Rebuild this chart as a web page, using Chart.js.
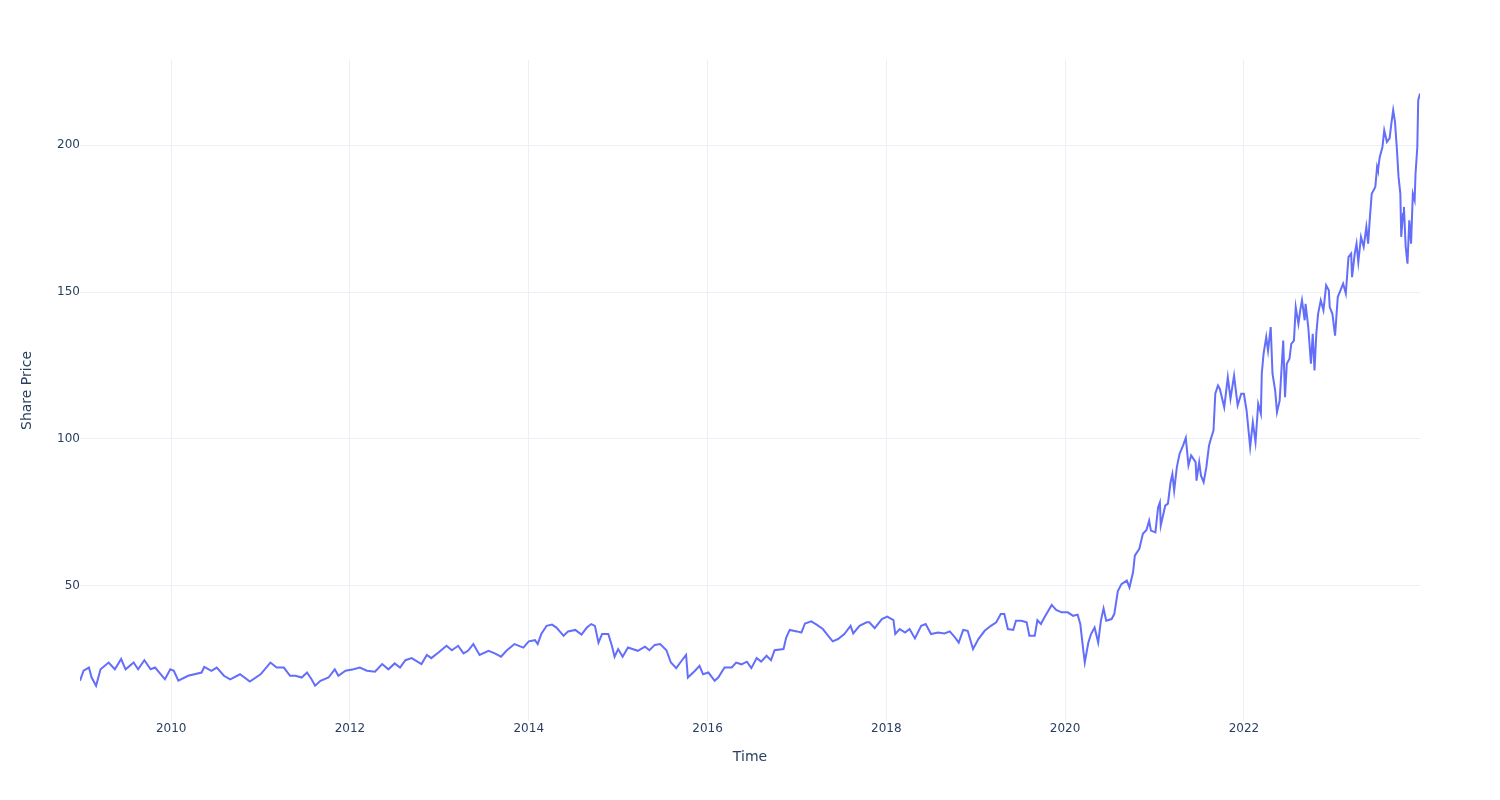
<!DOCTYPE html>
<html>
<head>
<meta charset="utf-8">
<title>Share Price</title>
<script src="https://cdn.jsdelivr.net/npm/chart.js@4.4.1/dist/chart.umd.min.js"></script>
<style>
    html, body { margin: 0; padding: 0; background: #ffffff; }
    #wrap { width: 1500px; height: 800px; }
</style>
</head>
<body>
<div id="wrap"><canvas id="priceChart" width="1500" height="800"></canvas></div>
<script>
// Time as decimal years
const dates = [
    2008.98, 2009.02, 2009.08, 2009.11, 2009.16, 2009.21, 2009.30, 2009.37, 2009.44, 2009.49,
    2009.58, 2009.63, 2009.70, 2009.77, 2009.82, 2009.93, 2009.99, 2010.03, 2010.08, 2010.19,
    2010.34, 2010.37, 2010.45, 2010.51, 2010.59, 2010.66, 2010.77, 2010.88, 2011.00, 2011.11,
    2011.18, 2011.26, 2011.33, 2011.39, 2011.46, 2011.52, 2011.57, 2011.61, 2011.67, 2011.76,
    2011.83, 2011.87, 2011.95, 2012.04, 2012.11, 2012.19, 2012.28, 2012.36, 2012.43, 2012.50,
    2012.56, 2012.62, 2012.69, 2012.80, 2012.86, 2012.91, 2012.99, 2013.08, 2013.14, 2013.21,
    2013.27, 2013.32, 2013.38, 2013.45, 2013.55, 2013.62, 2013.69, 2013.75, 2013.84, 2013.94,
    2014.00, 2014.07, 2014.10, 2014.14, 2014.20, 2014.26, 2014.31, 2014.39, 2014.44, 2014.52,
    2014.59, 2014.65, 2014.70, 2014.74, 2014.78, 2014.82, 2014.89, 2014.93, 2014.96, 2015.00,
    2015.05, 2015.11, 2015.22, 2015.30, 2015.35, 2015.41, 2015.47, 2015.54, 2015.59, 2015.65,
    2015.71, 2015.76, 2015.78, 2015.86, 2015.91, 2015.95, 2016.01, 2016.08, 2016.12, 2016.19,
    2016.27, 2016.32, 2016.38, 2016.44, 2016.49, 2016.55, 2016.60, 2016.66, 2016.71, 2016.75,
    2016.85, 2016.88, 2016.92, 2017.00, 2017.05, 2017.09, 2017.16, 2017.22, 2017.29, 2017.35,
    2017.40, 2017.46, 2017.53, 2017.60, 2017.63, 2017.70, 2017.78, 2017.81, 2017.87, 2017.95,
    2018.01, 2018.08, 2018.10, 2018.15, 2018.21, 2018.26, 2018.32, 2018.39, 2018.44, 2018.50,
    2018.58, 2018.65, 2018.71, 2018.77, 2018.81, 2018.86, 2018.91, 2018.97, 2019.03, 2019.10,
    2019.17, 2019.23, 2019.28, 2019.32, 2019.36, 2019.42, 2019.45, 2019.51, 2019.57, 2019.60,
    2019.66, 2019.69, 2019.73, 2019.76, 2019.85, 2019.90, 2019.96, 2020.03, 2020.09, 2020.14,
    2020.17, 2020.20, 2020.22, 2020.26, 2020.29, 2020.33, 2020.37, 2020.40, 2020.43, 2020.46,
    2020.52, 2020.55, 2020.59, 2020.63, 2020.69, 2020.72, 2020.76, 2020.78, 2020.83, 2020.87,
    2020.91, 2020.94, 2020.96, 2021.01, 2021.04, 2021.06, 2021.07, 2021.12, 2021.15, 2021.18,
    2021.20, 2021.22, 2021.25, 2021.28, 2021.32, 2021.35, 2021.38, 2021.41, 2021.46, 2021.47,
    2021.50, 2021.52, 2021.55, 2021.58, 2021.61, 2021.63, 2021.66, 2021.68, 2021.71, 2021.73,
    2021.78, 2021.82, 2021.85, 2021.89, 2021.93, 2021.97, 2022.00, 2022.03, 2022.07, 2022.10,
    2022.13, 2022.16, 2022.19, 2022.20, 2022.22, 2022.25, 2022.27, 2022.30, 2022.32, 2022.35,
    2022.37, 2022.40, 2022.42, 2022.44, 2022.46, 2022.48, 2022.51, 2022.53, 2022.56, 2022.58,
    2022.61, 2022.63, 2022.65, 2022.68, 2022.69, 2022.72, 2022.75, 2022.77, 2022.79, 2022.81,
    2022.83, 2022.86, 2022.89, 2022.92, 2022.95, 2022.96, 2022.99, 2023.02, 2023.05, 2023.08,
    2023.11, 2023.14, 2023.17, 2023.20, 2023.21, 2023.24, 2023.26, 2023.28, 2023.31, 2023.34,
    2023.37, 2023.39, 2023.41, 2023.43, 2023.47, 2023.49, 2023.50, 2023.52, 2023.55, 2023.57,
    2023.60, 2023.63, 2023.65, 2023.67, 2023.69, 2023.71, 2023.73, 2023.75, 2023.76, 2023.78,
    2023.79, 2023.81, 2023.83, 2023.85, 2023.87, 2023.89, 2023.91, 2023.92, 2023.94, 2023.95,
    2023.97
];

// Share price at each date
const prices = [
    17.7, 21.1, 22.2, 18.8, 16.0, 21.6, 23.9, 21.6, 25.1, 21.6,
    23.9, 21.6, 24.7, 21.6, 22.2, 18.2, 21.6, 21.1, 17.7, 19.4,
    20.5, 22.4, 21.1, 22.2, 19.4, 18.2, 19.9, 17.4, 19.9, 23.9,
    22.2, 22.2, 19.4, 19.4, 18.8, 20.5, 18.2, 16.0, 17.7, 18.8,
    21.6, 19.4, 21.1, 21.6, 22.2, 21.1, 20.8, 23.4, 21.6, 23.6,
    22.2, 24.7, 25.4, 23.4, 26.5, 25.4, 27.3, 29.6, 28.1, 29.6,
    27.0, 27.9, 30.2, 26.5, 27.9, 27.0, 25.9, 27.9, 30.2, 29.0,
    31.1, 31.5, 30.2, 33.6, 36.4, 36.8, 35.8, 33.0, 34.5, 35.0,
    33.4, 35.8, 37.0, 36.4, 30.7, 33.6, 33.6, 29.6, 25.9, 28.5,
    25.9, 29.0, 27.9, 29.3, 28.1, 29.9, 30.2, 28.1, 23.9, 22.0,
    24.5, 26.5, 18.8, 21.1, 22.8, 19.9, 20.5, 17.7, 18.8, 22.2,
    22.2, 23.9, 23.3, 24.2, 22.0, 25.4, 24.2, 26.2, 24.7, 28.1,
    28.5, 32.4, 35.0, 34.5, 34.1, 37.2, 37.9, 36.8, 35.3, 33.0,
    31.1, 31.9, 33.6, 36.4, 33.8, 36.4, 37.6, 37.6, 35.6, 38.7,
    39.5, 38.3, 33.6, 35.3, 34.1, 35.3, 32.1, 36.4, 37.0, 33.6,
    34.1, 33.8, 34.5, 32.4, 30.7, 35.0, 34.7, 28.5, 31.9, 34.7,
    36.4, 37.6, 40.4, 40.4, 35.3, 35.0, 38.1, 38.1, 37.6, 33.0,
    33.0, 38.3, 37.0, 38.8, 43.5, 41.8, 41.0, 41.0, 39.8, 40.2,
    37.0, 29.0, 23.9, 30.7, 33.6, 35.8, 30.7, 38.1, 42.3, 38.1,
    38.7, 40.4, 48.2, 50.6, 51.8, 49.5, 54.6, 60.3, 62.6, 67.7,
    69.0, 72.2, 68.8, 68.2, 76.7, 78.4, 70.5, 77.3, 78.0, 85.3,
    88.1, 82.4, 90.4, 94.9, 97.8, 100.4, 91.0, 94.4, 92.1, 85.8,
    92.1, 87.5, 85.3, 90.4, 97.8, 100.0, 102.9, 115.4, 118.2, 117.1,
    110.8, 121.0, 113.7, 121.6, 111.4, 115.4, 115.4, 109.7, 97.2, 105.7,
    98.9, 112.0, 108.6, 122.2, 129.0, 134.7, 130.1, 138.1, 122.2, 116.5,
    109.1, 113.1, 123.3, 133.5, 114.2, 125.6, 127.3, 132.4, 133.5, 144.9,
    139.2, 143.8, 147.2, 140.4, 146.0, 138.1, 125.6, 135.8, 123.3, 135.8,
    142.6, 147.2, 143.8, 152.3, 150.6, 144.9, 142.6, 135.2, 148.3, 150.6,
    152.9, 149.5, 161.9, 163.1, 155.1, 163.1, 166.5, 160.2, 168.8, 165.4,
    172.2, 166.5, 175.6, 183.5, 185.8, 192.6, 191.5, 196.0, 199.4, 205.1,
    201.1, 202.3, 207.4, 211.9, 208.0, 199.4, 189.2, 183.5, 168.8, 176.7,
    179.0, 165.4, 159.7, 174.4, 166.5, 183.5, 181.3, 190.3, 199.4, 215.3,
    217.6
];

// Axis tick labels
const yearTicks = [2010, 2012, 2014, 2016, 2018, 2020, 2022];
const priceTicks = [50, 100, 150, 200];

const points = dates.map((d, i) => ({ x: d, y: prices[i] }));

const fontFamily = '"DejaVu Sans", Verdana, Arial, sans-serif';
const textColor = '#2a3f5f';
const gridColor = '#ebf0f8';

const ctx = document.getElementById('priceChart').getContext('2d');
new Chart(ctx, {
    type: 'line',
    data: {
        datasets: [{
            label: 'Share Price',
            data: points,
            borderColor: '#636efa',
            borderWidth: 2,
            pointRadius: 0,
            tension: 0,
            fill: false
        }]
    },
    options: {
        responsive: false,
        animation: false,
        layout: {
            padding: { top: 60, right: 80, left: 0, bottom: 0 }
        },
        plugins: {
            legend: { display: false },
            tooltip: { enabled: false }
        },
        scales: {
            x: {
                type: 'linear',
                min: dates[0],
                max: dates[dates.length - 1],
                afterBuildTicks: (scale) => {
                    scale.ticks = yearTicks.map(v => ({ value: v }));
                },
                afterFit: (scale) => { scale.height = 79; },
                grid: { color: gridColor, drawTicks: false, lineWidth: 1 },
                border: { display: false },
                ticks: {
                    padding: 1,
                    color: textColor,
                    font: { family: fontFamily, size: 12 },
                    maxRotation: 0,
                    callback: (v) => String(v)
                },
                title: {
                    display: true,
                    text: 'Time',
                    color: textColor,
                    font: { family: fontFamily, size: 14 },
                    padding: { top: 0, bottom: 34 }
                }
            },
            y: {
                type: 'linear',
                min: 4,
                max: 229,
                afterBuildTicks: (scale) => {
                    scale.ticks = priceTicks.map(v => ({ value: v }));
                },
                afterFit: (scale) => { scale.width = 80; },
                grid: { color: gridColor, drawTicks: false, lineWidth: 1 },
                border: { display: false },
                ticks: {
                    padding: 0,
                    color: textColor,
                    font: { family: fontFamily, size: 12 },
                    callback: (v) => String(v)
                },
                title: {
                    display: true,
                    text: 'Share Price',
                    color: textColor,
                    font: { family: fontFamily, size: 14 },
                    padding: { top: 19, bottom: 0 }
                }
            }
        }
    }
});
</script>
</body>
</html>
